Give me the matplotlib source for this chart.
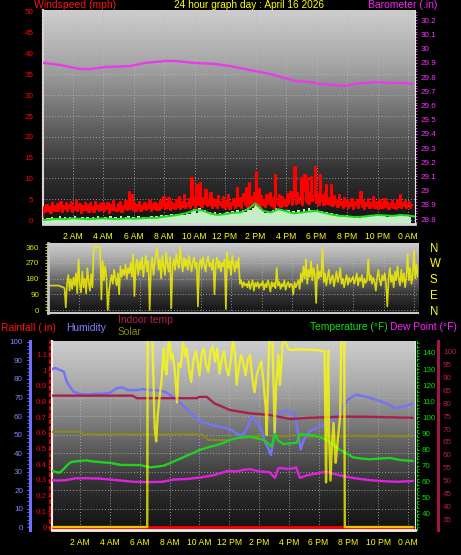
import numpy as np
import matplotlib
matplotlib.use('Agg')
import matplotlib.pyplot as plt
from matplotlib.colors import LinearSegmentedColormap
from matplotlib.ticker import MultipleLocator

# ---------------- data ----------------
hour_ticks = [2, 4, 6, 8, 10, 12, 14, 16, 18, 20, 22, 24]
hour_labels = ['2 AM', '4 AM', '6 AM', '8 AM', '10 AM', '12 PM',
               '2 PM', '4 PM', '6 PM', '8 PM', '10 PM', '0 AM']

# wind gust (mph), one value every 5 minutes from midnight
wind_gust = (
    [0.7, 2.4, 3.1, 2.0, 3.6, 2.2, 3.1, 1.8, 4.2, 2.5, 3.4, 2.1] +
    [3.8, 2.2, 3.0, 4.4, 1.9, 3.3, 2.6, 4.0, 2.1, 3.5, 2.8, 4.3] +
    [2.0, 3.2, 2.4, 4.5, 2.2, 3.0, 3.9, 1.8, 3.4, 2.5, 4.1, 2.3] +
    [3.5, 2.0, 4.0, 2.7, 3.1, 1.9, 4.4, 2.6, 3.3, 2.2, 3.8, 2.4] +
    [4.2, 2.1, 3.2, 2.6, 4.0, 1.8, 3.5, 2.3, 4.6, 2.5, 3.0, 2.2] +
    [3.9, 2.4, 4.3, 2.0, 3.4, 2.7, 4.5, 2.3, 3.6, 6.8, 2.6, 5.9] +
    [2.4, 4.0, 2.2, 3.7, 2.8, 4.4, 2.1, 3.3, 2.6, 4.1, 2.3, 3.6] +
    [2.9, 4.5, 2.2, 3.5, 2.7, 4.2, 2.4, 3.8, 2.5, 4.6, 2.8, 3.4] +
    [5.5, 2.6, 4.0, 3.0, 5.3, 2.5, 4.3, 2.9, 3.8, 2.6, 4.8, 3.1] +
    [5.6, 2.7, 4.4, 3.2, 6.0, 2.8, 4.1, 3.3, 5.0, 2.9, 10.2, 3.6] +
    [5.4, 3.0, 8.4, 3.5, 4.6, 8.9, 3.2, 5.2, 3.8, 7.2, 3.3, 4.9] +
    [3.6, 6.5, 3.0, 5.0, 3.4, 4.7, 2.9, 5.8, 3.5, 4.4, 3.1, 5.5] +
    [2.8, 4.6, 3.3, 5.9, 2.7, 4.2, 3.6, 5.0, 2.9, 4.8, 7.7, 3.4] +
    [5.2, 3.0, 4.6, 6.2, 3.5, 7.7, 3.1, 8.9, 4.0, 5.6, 3.3, 6.5] +
    [4.1, 11.6, 3.5, 7.4, 3.0, 5.8, 3.6, 4.9, 3.2, 6.1, 3.8, 5.0] +
    [6.5, 3.4, 5.2, 3.0, 10.8, 4.4, 3.6, 6.0, 3.1, 5.5, 3.7, 4.8] +
    [3.3, 6.2, 3.9, 5.1, 6.8, 3.5, 5.6, 12.8, 3.8, 6.4, 4.2, 5.3] +
    [10.0, 3.6, 6.9, 10.8, 4.3, 10.0, 3.9, 6.6, 10.4, 4.5, 5.7, 12.8] +
    [4.1, 6.3, 3.7, 10.8, 4.6, 5.9, 3.5, 6.8, 8.4, 3.8, 5.4, 3.6] +
    [8.4, 3.3, 5.8, 3.9, 4.9, 3.1, 6.0, 3.6, 4.4, 2.9, 5.2, 3.4] +
    [4.6, 2.8, 4.0, 3.3, 5.1, 2.7, 4.3, 3.5, 4.8, 2.9, 4.1, 6.8] +
    [3.2, 4.5, 2.7, 4.0, 3.4, 5.0, 2.8, 4.2, 3.3, 5.6, 2.9, 4.4] +
    [3.5, 2.6, 4.7, 3.0, 4.1, 2.8, 5.0, 3.2, 4.3, 2.7, 3.9, 3.1] +
    [4.5, 2.9, 3.8, 2.6, 4.9, 3.1, 6.0, 2.8, 4.2, 3.3, 4.6, 2.9] +
    [3.7, 4.4, 3.0, 3.6]
)

# average wind (mph), every 30 minutes
wind_avg = [0.0, 0.1, 0.3, 0.2, 0.4, 0.3, 0.2, 0.3, 0.4, 0.3, 0.2, 0.4,
            0.3, 0.4, 0.5, 0.5, 0.8, 1.0, 1.3, 1.7, 2.4, 2.3, 1.6, 1.2,
            1.4, 1.7, 1.8, 2.6, 4.0, 2.2, 1.8, 2.6, 2.1, 1.6, 1.8, 2.0,
            2.2, 1.7, 1.3, 1.0, 0.9, 0.7, 0.8, 1.0, 1.2, 1.1, 1.0, 1.2,
            1.1, 0.8]

# wind speed (mph), every 10 minutes
wind_speed = (
    [0.0, 0.3, 0.6, 0.4, 0.8, 0.5] + [0.6, 0.9, 0.4, 0.7, 0.5, 0.8] +
    [0.5, 0.9, 0.6, 0.4, 0.8, 0.6] + [0.7, 0.4, 0.8, 0.5, 0.9, 0.6] +
    [0.5, 0.8, 0.6, 0.9, 0.4, 0.7] + [0.6, 0.9, 0.5, 0.8, 1.0, 0.6] +
    [0.8, 0.5, 0.9, 0.6, 0.8, 0.5] + [0.7, 1.0, 0.6, 0.9, 0.7, 1.1] +
    [0.9, 1.3, 0.8, 1.5, 1.1, 1.4] + [1.2, 1.6, 1.3, 1.9, 1.5, 2.2] +
    [2.6, 1.8, 2.9, 2.1, 2.4, 1.7] + [1.9, 1.4, 2.0, 1.5, 1.8, 1.3] +
    [1.6, 2.0, 1.5, 2.2, 1.8, 2.4] + [1.9, 2.5, 2.0, 2.8, 2.3, 3.0] +
    [3.6, 3.2, 2.6, 2.2, 1.8, 2.0] + [1.7, 2.4, 2.9, 2.3, 2.6, 2.1] +
    [1.9, 2.3, 1.6, 2.1, 1.8, 2.4] + [2.0, 2.6, 2.2, 2.8, 2.4, 2.1] +
    [2.5, 2.0, 2.2, 1.7, 1.9, 1.5] + [1.6, 1.2, 1.4, 1.0, 1.3, 0.9] +
    [1.1, 0.8, 1.0, 0.7, 0.9, 0.6] + [0.8, 1.0, 0.7, 1.1, 0.9, 1.2] +
    [1.0, 1.3, 0.9, 1.1, 0.8, 1.2] + [1.0, 1.3, 1.1, 1.4, 0.9, 1.2] +
    [1.0, 0.8]
)

# barometer (inHg)
baro_hours = [0.07, 1.18, 2.49, 3.15, 4.13, 5.77, 6.75, 8.07, 8.72, 9.38,
              10.03, 11.34, 12.33, 13.31, 14.30, 14.95, 15.93, 16.59, 17.57,
              18.23, 19.21, 19.87, 20.52, 21.18, 21.84, 22.82, 23.80, 24.26]
baro_inhg = [29.900, 29.885, 29.856, 29.856, 29.870, 29.877, 29.899, 29.913,
             29.913, 29.906, 29.899, 29.892, 29.877, 29.856, 29.835, 29.821,
             29.793, 29.772, 29.765, 29.751, 29.744, 29.737, 29.751, 29.758,
             29.765, 29.758, 29.758, 29.751]
baro_ticks = [28.8, 28.9, 29.0, 29.1, 29.2, 29.3, 29.4, 29.5, 29.6, 29.7,
              29.8, 29.9, 30.0, 30.1, 30.2]
baro_labels = ['28.8', '28.9', '29', '29.1', '29.2', '29.3', '29.4', '29.5',
               '29.6', '29.7', '29.8', '29.9', '30', '30.1', '30.2']

# wind direction (degrees), every 5 minutes
wind_dir = (
    [140, 140, 140, 140, 140, 140, 140, 140, 140, 138, 135, 132] +
    [130, 125, 15, 150, 200, 110, 175, 120, 185, 140, 210, 95] +
    [290, 150, 100, 220, 130, 180, 95, 240, 160, 110, 205, 130] +
    [360, 360, 360, 360, 360, 360, 60, 280, 170, 250, 190, 0] +
    [110, 160, 200, 150, 230, 180, 140, 210, 90, 250, 190, 230] +
    [200, 260, 180, 240, 210, 270, 190, 320, 80, 250, 290, 200] +
    [280, 230, 300, 190, 260, 310, 220, 280, 0, 240, 300, 200] +
    [270, 320, 355, 230, 290, 180, 310, 250, 200, 330, 260, 220] +
    [300, 10, 250, 290, 230, 320, 270, 240, 360, 280, 220, 300] +
    [250, 290, 230, 310, 260, 220, 280, 300, 240, 270, 20, 260] +
    [290, 240, 300, 260, 220, 280, 310, 250, 270, 230, 290, 90] +
    [260, 300, 240, 280, 220, 270, 250, 290, 5, 330, 240, 280] +
    [200, 310, 260, 220, 280, 240, 300, 150, 170, 130, 160, 140] +
    [150, 130, 165, 120, 145, 170, 110, 155, 135, 160, 125, 150] +
    [140, 165, 115, 150, 130, 170, 145, 105, 160, 135, 155, 125] +
    [240, 140, 160, 120, 150, 135, 170, 115, 145, 160, 130, 150] +
    [145, 90, 160, 130, 150, 170, 120, 210, 160, 250, 180, 290] +
    [150, 230, 190, 280, 170, 240, 200, 40, 260, 180, 220, 190] +
    [355, 160, 210, 140, 190, 230, 150, 180, 200, 135, 175, 220] +
    [160, 190, 240, 150, 180, 130, 170, 200, 145, 185, 160, 175] +
    [190, 150, 175, 210, 140, 185, 165, 200, 130, 180, 155, 170] +
    [290, 170, 200, 150, 185, 160, 110, 190, 230, 170, 140, 200] +
    [170, 210, 150, 20, 180, 240, 160, 200, 130, 220, 170, 250] +
    [180, 140, 230, 160, 210, 130, 190, 320, 170, 240, 150, 200] +
    [340, 180, 260, 190]
)
dir_ticks = [0, 90, 180, 270, 360]
compass_ticks = [360, 270, 180, 90, 0]
compass_labels = ['N', 'W', 'S', 'E', 'N']

# humidity (%)
hum_hours = [0.05, 0.3, 0.6, 0.9, 1.1, 1.3, 1.55, 2.0, 2.5, 3.0, 3.5, 4.0,
             4.45, 4.8, 5.2, 5.8, 6.2, 6.7, 7.1, 7.5, 7.8, 8.2, 8.5, 9.0,
             9.4, 10.0, 10.5, 10.9, 11.5, 12.05, 12.4, 12.7, 13.0, 13.3,
             13.5, 13.8, 14.0, 14.2, 14.4, 14.6, 14.8, 15.0, 15.2, 15.5,
             15.8, 16.1, 16.4, 16.6, 16.8, 17.0, 17.4, 18.0, 18.6, 19.0,
             19.4, 19.7, 20.0, 20.5, 21.4, 22.5, 23.2, 23.9, 24.3]
humidity = [85, 86, 85, 84, 78.5, 76, 73, 72, 71.5, 72, 72, 72.5,
            75, 75.5, 74, 74, 74.5, 74, 74, 73.5, 72.6, 70.5, 68.6, 65,
            62, 57, 56, 55, 54, 53, 51, 49.5, 50.5, 55,
            60, 57, 55, 52, 46, 43, 39, 48, 61, 62,
            63, 62, 61, 52, 42, 47, 52, 54, 56, 58,
            62, 66, 69, 71.5, 70, 67, 64, 65.5, 66.5]

# olive trace (%)
olive_hours = [0.06, 2.1, 2.2, 10.2, 10.4, 10.6, 12.05, 12.5, 13.5, 14.5,
               15.5, 16.5, 17.5, 18.5, 19.5, 20.5, 21.5, 22.5, 23.5, 24.3]
olive_vals = [51.4, 51.4, 50.2, 50.2, 48.5, 47.0, 47.0, 48.0, 48.8, 49.5,
              49.0, 49.5, 48.8, 49.3, 48.8, 49.4, 48.9, 49.3, 48.8, 49.2]

# rainfall (in)
rain_hours = [0.0, 24.3]
rain_in = [0.0, 0.0]
rain_ticks = [0, 0.1, 0.2, 0.3, 0.4, 0.5, 0.6, 0.7, 0.8, 0.9, 1.0, 1.1]
rain_labels = ['0', '0.1', '0.2', '0.3', '0.4', '0.5', '0.6', '0.7', '0.8',
               '0.9', '1', '1.1']

# outdoor temperature and dew point (F)
temp_hours = [0.06, 0.4, 0.6, 0.9, 1.2, 1.4, 2.0, 2.4, 3.0, 3.6, 4.0, 4.7,
              5.5, 6.0, 6.7, 7.2, 7.6, 8.0, 8.5, 9.1, 9.6, 10.0, 10.6,
              11.2, 11.7, 12.05, 12.5, 13.0, 13.4, 13.9, 14.3, 14.6, 14.85,
              15.07, 15.25, 15.63, 16.0, 16.53, 16.75, 17.2, 17.64, 18.0,
              18.54, 19.0, 19.4, 20.0, 20.3, 21.0, 21.45, 22.2, 22.8, 23.5,
              24.3]
temperature = [66.9, 66.0, 65.6, 68.0, 71.0, 72.3, 73.0, 73.3, 72.5, 72.0,
               71.8, 70.5, 70.4, 70.4, 69.0, 69.5, 70.0, 71.5, 73.5, 76.0,
               78.0, 79.7, 81.5, 82.9, 84.5, 86.0, 87.2, 87.8, 88.0, 87.0,
               86.0, 84.0, 81.8, 90.0, 86.0, 83.5, 83.8, 84.3, 89.7, 89.0,
               89.0, 88.0, 86.0, 83.0, 80.0, 77.0, 75.2, 74.3, 74.0, 74.5,
               74.8, 73.5, 73.0]
dew_hours = [0.06, 0.5, 1.0, 1.7, 2.5, 3.3, 4.5, 5.6, 6.5, 7.5, 8.3, 9.2,
             10.0, 11.0, 11.9, 12.5, 13.0, 13.4, 14.0, 14.7, 15.07, 15.3,
             16.0, 16.5, 16.75, 17.2, 17.64, 18.54, 19.0, 19.8, 20.6, 21.45,
             22.5, 23.3, 24.3]
dew_point = [61.0, 60.8, 61.0, 62.2, 62.2, 62.0, 61.0, 60.0, 59.8, 60.0,
             61.4, 61.8, 62.6, 64.2, 66.7, 66.5, 67.5, 67.8, 66.5, 66.0,
             62.4, 68.6, 68.0, 68.9, 62.4, 64.0, 64.8, 66.3, 65.0, 63.2,
             62.0, 61.0, 60.3, 60.0, 60.5]

# indoor temperature (F)
indoor_hours = [0.06, 5.5, 5.8, 9.8, 10.0, 10.5, 11.0, 11.5, 12.05, 13.4,
                14.7, 16.1, 17.4, 19.6, 20.9, 24.3]
indoor_temp = [83.0, 83.0, 82.0, 82.0, 82.5, 82.5, 80.0, 78.8, 77.4, 76.1,
               75.5, 73.9, 74.4, 74.8, 74.8, 74.4]

# solar
solar_hours = [0.0, 6.5, 6.53, 6.85, 6.92, 7.0, 7.1, 7.2, 7.3, 7.45, 7.6,
               7.7, 7.8, 7.9, 8.0, 8.1, 8.2, 8.35, 8.5, 8.6, 8.75, 8.9, 9.05,
               9.15, 9.3, 9.45, 9.6, 9.75, 9.9, 10.0, 10.15, 10.3, 10.45,
               10.6, 10.75, 10.9, 11.05, 11.2, 11.35, 11.5, 11.65, 11.8,
               11.95, 12.1, 12.25, 12.4, 12.5, 12.65, 12.8, 12.95, 13.1,
               13.25, 13.4, 13.55, 13.7, 13.85, 14.0, 14.15, 14.3, 14.45,
               14.52, 14.6, 14.7, 14.9, 14.98, 15.05, 15.15, 15.3, 15.4, 15.5,
               15.6, 15.8, 15.95, 16.1, 17.0, 18.0, 18.4, 18.45, 18.5, 18.58,
               18.65, 18.7, 18.8, 18.9, 19.0, 19.1, 19.15, 19.3, 19.45, 19.52,
               19.72, 19.76, 24.3]
solar = [0, 0, 1050, 1000, 780, 530, 460, 600, 680, 780, 960,
         850, 820, 980, 1010, 900, 930, 840, 670, 880, 860, 990, 920,
         960, 850, 780, 900, 945, 880, 815, 930, 960, 870,
         835, 950, 970, 890, 960, 825, 900, 945, 860,
         815, 890, 1005, 930, 765, 860, 925, 880, 815,
         900, 925, 800, 725, 820, 855, 890, 780, 640,
         495, 780, 1020, 1010, 760, 510, 760, 925, 765, 880,
         1005, 990, 960, 952, 955, 950, 945, 600, 240, 800,
         950, 500, 250, 450, 560, 400, 345, 480, 600, 1020,
         1020, 0, 0]

# ---------------- figure ----------------
W, H = 461, 555
plt.rcParams['font.family'] = ['Liberation Sans', 'DejaVu Sans']
fig = plt.figure(figsize=(W / 100, H / 100), dpi=100, facecolor='black')
PT = 0.72  # points per pixel

bg_cmap = LinearSegmentedColormap.from_list(
    'bg', [(0, '#cecece'), (0.25, '#a6a6a6'), (0.5, '#6c6c6c'),
           (0.75, '#323232'), (1, '#121212')])
grad = np.linspace(0, 1, 256).reshape(-1, 1)
grid_kw = dict(color='#bcbcbc', linestyle=(0, (1, 2)), linewidth=0.7, alpha=0.75)


def px_axes(l, t, r, b):
    return fig.add_axes([l / W, 1 - b / H, (r - l) / W, (b - t) / H])


def background(l, t, r, b):
    bg = px_axes(l, t, r, b)
    bg.imshow(grad, cmap=bg_cmap, aspect='auto', extent=[0, 1, 0, 1],
              origin='upper', interpolation='bilinear')
    bg.set_xlim(0, 1)
    bg.set_ylim(0, 1)
    bg.set_xticks([])
    bg.set_yticks([])
    for s in bg.spines.values():
        s.set_visible(False)
    return bg


def ftext(x, y, s, color, size, ha='left'):
    fig.text(x / W, 1 - y / H, s, color=color, fontsize=size, ha=ha,
             va='baseline')


def hide_spines(ax):
    for s in ax.spines.values():
        s.set_visible(False)


# ---- titles ----
ftext(34, 8, 'Windspeed (mph)', '#ff1010', 7.5)
ftext(249, 8, '24 hour graph day : April 16 2026', '#ffff00', 7.3, ha='center')
ftext(368, 8, 'Barometer (.in)', '#ff20ff', 7.5)

# ================= panel 1: wind speed + barometer =================
L1, T1, R1, B1 = 43, 10, 415, 224
background(L1, T1, R1, B1)
ax1 = px_axes(L1, T1, R1, B1)
ax1.set_facecolor('none')
ax1.set_xlim((L1 - 42) / 15.25, (R1 - 42) / 15.25)
ax1.set_ylim(-0.96, 50.48)
t5 = np.arange(len(wind_gust)) * 5 / 60
t10 = np.arange(len(wind_speed)) * 10 / 60
t30 = np.arange(len(wind_avg)) * 0.5
ax1.fill_between(t10, -1, wind_speed, step='mid', color='#c6eec6', lw=0, zorder=2)
ax1.plot(t5, wind_gust, color='#ff0000', lw=1.5, drawstyle='steps-mid', zorder=3)
ax1.plot(t30, wind_avg, color='#18e018', lw=1.4, zorder=4)
ax1.set_xticks(hour_ticks)
ax1.set_xticklabels(hour_labels)
ax1.set_yticks(range(0, 51, 5))
ax1.yaxis.set_minor_locator(MultipleLocator(1))
ax1.tick_params(axis='x', length=0, pad=5.5, labelsize=6.2, labelcolor='#ffff00')
ax1.tick_params(axis='y', which='both', length=2.5 * PT, color='#e00000',
                labelsize=5.8, labelcolor='#ff0000', pad=5)
ax1.grid(True, **grid_kw)
ax1.spines['top'].set_visible(False)
ax1.spines['right'].set_visible(False)
ax1.spines['left'].set_color('#d4d4d4')
ax1.spines['left'].set_linewidth(1.5)
ax1.spines['bottom'].set_color('#d4d4d4')
ax1.spines['bottom'].set_linewidth(2)

ax1b = ax1.twinx()
ax1b.set_ylim(28.765, 30.272)
ax1b.plot(baro_hours, baro_inhg, color='#e83ce8', lw=1.7)
ax1b.set_yticks(baro_ticks)
ax1b.set_yticklabels(baro_labels)
ax1b.yaxis.set_minor_locator(MultipleLocator(0.02))
ax1b.tick_params(axis='y', which='both', length=2.5 * PT, color='#ff40ff',
                 labelcolor='#ff30ff', labelsize=5.8, pad=2.2)
hide_spines(ax1b)
ax1b.spines['right'].set_visible(True)
ax1b.spines['right'].set_color('#e8e8e8')
ax1b.spines['right'].set_linestyle((0, (1, 1)))

# ================= panel 2: wind direction =================
L2, T2, R2, B2 = 48, 243, 418, 313
bg2 = background(L2, T2, R2, B2)
ax2 = px_axes(L2, T2, R2, B2)
ax2.set_facecolor('none')
ax2.set_xlim(0, (R2 - 48) / 15.25)
ax2.set_ylim(-17, 383)
td = np.arange(len(wind_dir)) * 5 / 60
ax2.plot(td, wind_dir, color='#f2f000', lw=1.2, alpha=0.85)
ax2.set_yticks(dir_ticks)
ax2.yaxis.set_minor_locator(MultipleLocator(18))
ax2.set_xticks(hour_ticks)
ax2.tick_params(axis='x', length=0, labelbottom=False)
ax2.tick_params(axis='y', which='both', length=3 * PT, color='#d8d800',
                labelcolor='#e0e000', labelsize=5.8, pad=4.3)
ax2.grid(True, **grid_kw)
hide_spines(ax2)
ax2.spines['left'].set_visible(True)
ax2.spines['left'].set_color('#c4c4c4')
ax2.spines['left'].set_linewidth(2)
ax2.spines['bottom'].set_visible(True)
ax2.spines['bottom'].set_color('#c8c8c8')
ax2.spines['bottom'].set_linewidth(1.5)

ax2c = ax2.twinx()
ax2c.set_ylim(-17, 383)
ax2c.set_yticks(compass_ticks)
ax2c.set_yticklabels(compass_labels)
ax2c.tick_params(axis='y', length=0, labelsize=8.3, labelcolor='#ffff00', pad=8.6)
hide_spines(ax2c)

# ================= panel 3: rain / humidity / temps / solar =================
ftext(1, 331, 'Rainfall (.in)', '#ff1010', 7.4)
ftext(66, 331, 'Humidity', '#8080ff', 7.4)
ftext(118, 323, 'Indoor temp', '#b8204c', 7.4)
ftext(118, 335, 'Solar', '#8c8c00', 7.4)
ftext(310, 330, 'Temperature (\u00b0F)', '#10e010', 7.4)
ftext(390, 330, 'Dew Point (\u00b0F)', '#ff20ff', 7.4)

L3, T3, R3, B3 = 52, 341, 415, 530
bg3 = background(L3, T3, R3, B3)
bg3.spines['left'].set_visible(True)
bg3.spines['left'].set_color('#f0f0f0')
bg3.spines['left'].set_linewidth(1.5)
bg3.spines['right'].set_visible(True)
bg3.spines['right'].set_color('#e8e8e8')
bg3.spines['right'].set_linestyle((0, (1, 1)))

ax3 = px_axes(L3, T3, R3, B3)
ax3.set_facecolor('none')
ax3.set_xlim((L3 - 50.4) / 14.9, (R3 - 50.4) / 14.9)
ax3.set_ylim(-1.62, 100.54)
ax3.plot(olive_hours, olive_vals, color='#8a8a14', lw=1.4)
ax3.plot(hum_hours, humidity, color='#7474f4', lw=1.8)
ax3.set_yticks(range(0, 101, 10))
ax3.yaxis.set_minor_locator(MultipleLocator(2))
ax3.set_xticks(hour_ticks)
ax3.set_xticklabels(hour_labels)
ax3.tick_params(axis='x', length=0, pad=5.8, labelsize=6.2, labelcolor='#ffff00')
ax3.tick_params(axis='y', which='both', length=3 * PT, color='#7070ff',
                labelcolor='#8282ff', labelsize=5.8, pad=2.9)
ax3.grid(True, **grid_kw)
hide_spines(ax3)
ax3.spines['left'].set_visible(True)
ax3.spines['left'].set_position(('outward', 22 * PT))
ax3.spines['left'].set_color('#7070ff')
ax3.spines['left'].set_linewidth(2.2)
ax3.spines['bottom'].set_visible(True)
ax3.spines['bottom'].set_color('#f0f0f0')
ax3.spines['bottom'].set_linewidth(2)

# indoor temperature axis (far right)
ax3i = ax3.twinx()
ax3i.set_ylim(30.72, 104.26)
ax3i.plot(indoor_hours, indoor_temp, color='#a8204c', lw=1.7)
ax3i.set_yticks(range(35, 101, 5))
ax3i.tick_params(axis='y', length=0, labelcolor='#b0204c', labelsize=5.8, pad=3.6)
hide_spines(ax3i)
ax3i.spines['right'].set_visible(True)
ax3i.spines['right'].set_position(('outward', 23 * PT))
ax3i.spines['right'].set_color('#a01848')
ax3i.spines['right'].set_linewidth(2.2)

# outdoor temperature / dew point axis (right)
ax3t = ax3.twinx()
ax3t.set_ylim(30.06, 147.45)
ax3t.plot(temp_hours, temperature, color='#22d022', lw=1.7)
ax3t.plot(dew_hours, dew_point, color='#e022e0', lw=1.7)
ax3t.set_yticks(range(40, 141, 10))
ax3t.yaxis.set_minor_locator(MultipleLocator(2))
ax3t.tick_params(axis='y', which='both', length=2.5 * PT, color='#00d000',
                 labelcolor='#00e000', labelsize=5.8, pad=1.8)
hide_spines(ax3t)
ax3t.spines['right'].set_visible(True)
ax3t.spines['right'].set_position(('outward', 2 * PT))
ax3t.spines['right'].set_color('#00d000')
ax3t.spines['right'].set_linestyle((0, (2, 2)))

# rainfall axis (left, inner)
ax3r = ax3.twinx()
ax3r.set_ylim(-0.019, 1.185)
ax3r.plot(rain_hours, rain_in, color='#ff0000', lw=2)
ax3r.yaxis.tick_left()
ax3r.set_yticks(rain_ticks)
ax3r.set_yticklabels(rain_labels)
ax3r.tick_params(axis='y', which='both', length=2 * PT, color='#ff0000',
                 labelcolor='#ff0000', labelsize=5.8, pad=0.6)
hide_spines(ax3r)
ax3r.spines['left'].set_visible(True)
ax3r.spines['left'].set_position(('outward', 2 * PT))
ax3r.spines['left'].set_color('#ff0000')
ax3r.spines['left'].set_linestyle((0, (2, 2)))
ax3r.spines['left'].set_linewidth(1.2)

# solar (no visible scale)
ax3s = ax3.twinx()
ax3s.set_ylim(-16, 1000)
ax3s.plot(solar_hours, solar, color='#ffff00', lw=1.7, alpha=0.75)
ax3s.axis('off')

fig.savefig('out.png', dpi=100, facecolor='black')
